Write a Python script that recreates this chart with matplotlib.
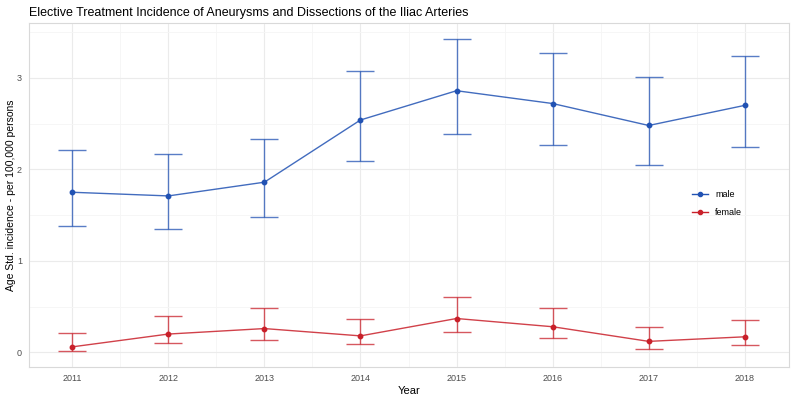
import matplotlib
matplotlib.use("Agg")
import matplotlib.pyplot as plt
from matplotlib.ticker import MultipleLocator

plt.rcParams['font.family'] = ['Liberation Sans', 'DejaVu Sans']

years = [2011, 2012, 2013, 2014, 2015, 2016, 2017, 2018]

# male: rate, lower CI, upper CI
male = [1.75, 1.71, 1.86, 2.54, 2.86, 2.72, 2.48, 2.70]
male_lo = [1.38, 1.35, 1.48, 2.09, 2.39, 2.27, 2.05, 2.24]
male_hi = [2.21, 2.17, 2.33, 3.08, 3.43, 3.27, 3.01, 3.24]

# female
female = [0.06, 0.20, 0.26, 0.18, 0.37, 0.28, 0.12, 0.17]
female_lo = [0.02, 0.10, 0.14, 0.09, 0.22, 0.16, 0.04, 0.08]
female_hi = [0.21, 0.40, 0.48, 0.37, 0.61, 0.49, 0.28, 0.35]

col_male = '#2152B3'
col_female = '#C9202A'

fig = plt.figure(figsize=(7.96, 3.97), dpi=100)
ax = fig.add_axes([0.0364, 0.0756, 0.9548, 0.8664])


def draw(vals, lo, hi, col, lab):
    yerr = [[v - l for v, l in zip(vals, lo)], [h - v for v, h in zip(vals, hi)]]
    ax.errorbar(years, vals, yerr=yerr, fmt='none', ecolor=col, elinewidth=1.0,
                capsize=10, capthick=1.0, alpha=0.75, zorder=3)
    ax.plot(years, vals, color=col, lw=1.0, alpha=0.85, zorder=4)
    ax.plot(years, vals, 'o', color=col, ms=3.2, zorder=5)
    ax.plot([], [], '-o', color=col, lw=1.0, ms=3, label=lab)


draw(male, male_lo, male_hi, col_male, 'male')
draw(female, female_lo, female_hi, col_female, 'female')

ax.set_xlim(2010.55, 2018.46)
ax.set_ylim(-0.16, 3.60)
ax.set_xticks(years)
ax.set_yticks([0, 1, 2, 3])
ax.xaxis.set_minor_locator(MultipleLocator(0.5))
ax.yaxis.set_minor_locator(MultipleLocator(0.5))
ax.grid(which='major', color='#EBEBEB', lw=0.8)
ax.grid(which='minor', color='#F5F5F5', lw=0.6)
ax.set_axisbelow(True)
ax.tick_params(which='both', length=0, labelsize=6.5, labelcolor='#4D4D4D', pad=5)
for s in ax.spines.values():
    s.set_color('#D9D9D9')
    s.set_linewidth(0.8)

ax.set_xlabel('Year', fontsize=8)
ax.xaxis.set_label_coords(0.5, -0.055)
ax.set_ylabel('Age Std. incidence - per 100,000 persons', fontsize=7.5)
ax.yaxis.set_label_coords(-0.017, 0.5)
fig.text(0.0364, 0.968, 'Elective Treatment Incidence of Aneurysms and Dissections of the Iliac Arteries',
         fontsize=9, va='center', ha='left')

ax.legend(loc='center', bbox_to_anchor=(0.905, 0.475), frameon=False, fontsize=6.5,
          handlelength=1.8, labelspacing=1.0)

fig.savefig('out.png', dpi=100)
